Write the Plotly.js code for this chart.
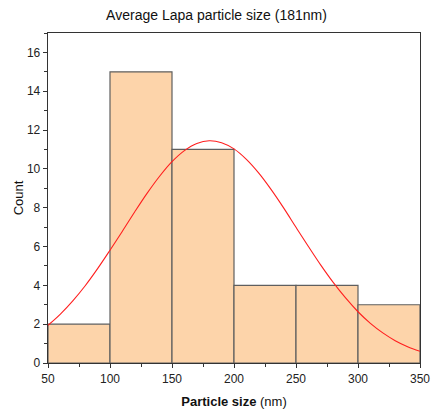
<!DOCTYPE html>
<html>
<head>
<meta charset="utf-8">
<script src="https://cdn.plot.ly/plotly-3.0.1.min.js"></script>
<style>html,body{margin:0;padding:0;background:#fff;}#chart{width:433px;height:412px;}</style>
</head>
<body>
<div id="chart"></div>
<script>
const binCenters = [75, 125, 175, 225, 275, 325];
const binCounts = [2, 15, 11, 4, 4, 3];
const binWidth = [50, 50, 50, 50, 50, 50];
const curveX = [50,60,70,80,90,100,110,120,130,140,150,160,170,180,190,200,210,220,230,240,250,260,270,280,290,300,310,320,330,340,350];
const curveY = [1.94,2.52,3.20,3.98,4.86,5.81,6.79,7.79,8.75,9.62,10.37,10.94,11.31,11.45,11.35,11.03,10.49,9.78,8.93,7.99,6.99,6.00,5.04,4.15,3.35,2.64,2.04,1.55,1.15,0.84,0.60];
const xTicks = [50,100,150,200,250,300,350];
const yTicks = [0,2,4,6,8,10,12,14,16];

const font = "Liberation Sans, Arial, sans-serif";
const traces = [
  {type:'bar', x:binCenters, y:binCounts, width:binWidth,
   marker:{color:'rgb(253,212,170)', line:{color:'rgb(95,95,95)', width:1.2}},
   hoverinfo:'skip', showlegend:false},
  {type:'scatter', mode:'lines', x:curveX, y:curveY,
   line:{color:'rgb(255,30,30)', width:1.1, shape:'spline'}, showlegend:false}
];
const layout = {
  width:433, height:412,
  margin:{l:48, r:13, t:33, b:49},
  paper_bgcolor:'#fff', plot_bgcolor:'#fff',
  font:{family:font, size:12, color:'#222'},
  title:{text:'Average Lapa particle size (181nm)', x:0.5, xref:'container', y:0.963, yanchor:'middle',
         font:{family:font, size:14, color:'#111'}},
  bargap:0,
  xaxis:{range:[50,350], tickvals:xTicks, ticks:'outside', ticklen:4, tickcolor:'#333',
         showline:true, linecolor:'#333', linewidth:1.3, mirror:true, showgrid:false, zeroline:false,
         minor:{dtick:25, tick0:25, ticks:'outside', ticklen:2.5, tickcolor:'#333', showgrid:false},
         tickfont:{size:12, color:'#222'},
         title:{text:'<b>Particle size</b> (nm)', standoff:12, font:{size:13, color:'#111'}}},
  yaxis:{range:[0,17], tickvals:yTicks, ticks:'outside', ticklen:4, tickcolor:'#333',
         showline:true, linecolor:'#333', linewidth:1.3, mirror:true, showgrid:false, zeroline:false,
         minor:{dtick:1, tick0:1, ticks:'outside', ticklen:2.5, tickcolor:'#333', showgrid:false},
         tickfont:{size:12, color:'#222'},
         title:{text:'Count', standoff:0, font:{size:13, color:'#111'}}}
};
Plotly.newPlot('chart', traces, layout, {displayModeBar:false, staticPlot:true});
</script>
</body>
</html>
